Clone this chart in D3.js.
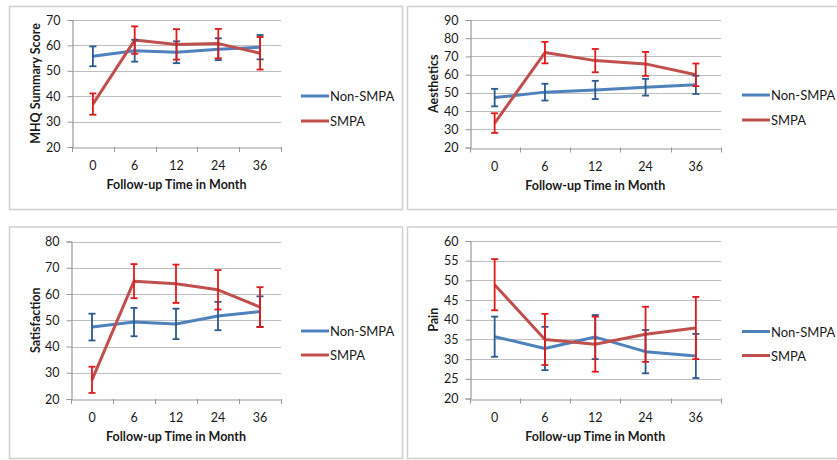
<!DOCTYPE html>
<html><head><meta charset="utf-8">
<script src="https://cdn.jsdelivr.net/npm/d3@7"></script>
<style>
html,body{margin:0;padding:0;background:#fff;}
svg{display:block;font-family:Lato,"Open Sans",sans-serif;}
</style></head>
<body>
<svg id="chart" width="837" height="460"></svg>
<script>
// ---- data ----
const months = ["0", "6", "12", "24", "36"];
const seriesNames = ["Non-SMPA", "SMPA"];

const mhqNon = [55.7, 57.9, 57.3, 58.5, 59.3];
const mhqNonErr = [3.9, 4.3, 4.3, 4.3, 4.8];
const mhqSmpa = [36.9, 62.1, 60.4, 60.7, 56.9];
const mhqSmpaErr = [4.2, 5.4, 6.0, 5.8, 6.4];

const aesNon = [47.4, 50.4, 51.6, 53.1, 54.4];
const aesNonErr = [4.8, 4.6, 5.0, 4.6, 5.0];
const aesSmpa = [33.4, 72.1, 67.7, 65.9, 59.9];
const aesSmpaErr = [5.4, 5.9, 6.4, 6.6, 6.2];

const satNon = [47.4, 49.3, 48.6, 51.6, 53.3];
const satNonErr = [5.1, 5.4, 5.8, 5.4, 5.8];
const satSmpa = [27.3, 64.9, 63.9, 61.6, 55.0];
const satSmpaErr = [5.0, 6.5, 7.3, 7.5, 7.6];

const painNon = [35.7, 32.7, 35.6, 31.9, 30.8];
const painNonErr = [5.1, 5.5, 5.6, 5.5, 5.6];
const painSmpa = [48.9, 35.0, 33.8, 36.3, 37.9];
const painSmpaErr = [6.5, 6.5, 7.0, 7.0, 7.9];

const yTitles = ["MHQ Summary Score", "Aesthetics", "Satisfaction", "Pain"];
const yDomains = [[20, 70], [20, 90], [20, 80], [20, 60]];
const yStepSizes = [10, 10, 10, 5];
const xTitle = "Follow-up Time in Month";

// ---- layout ----
const panels = [
  {box:[9, 6, 393, 203],   plot:[72, 20, 281, 147],     yl:35,  leg:[301, 96, 121],
   vals:[mhqNon, mhqSmpa], errs:[mhqNonErr, mhqSmpaErr]},
  {box:[407, 6, 440, 203], plot:[469.5, 20, 721, 147.5], yl:433, leg:[742, 95, 120],
   vals:[aesNon, aesSmpa], errs:[aesNonErr, aesSmpaErr]},
  {box:[9, 226.5, 393, 231.5], plot:[71, 241.5, 281, 399], yl:35, leg:[301, 331, 355],
   vals:[satNon, satSmpa], errs:[satNonErr, satSmpaErr]},
  {box:[407, 226.5, 440, 231.5], plot:[469.5, 241, 721, 398.5], yl:433, leg:[742, 331.5, 355.5],
   vals:[painNon, painSmpa], errs:[painNonErr, painSmpaErr]}
];

const lineColors = ["#4F81BD", "#C0504D"];
const errColors = ["#2C5A8C", "#E0191C"];
const gridColor = "#BEBEBE";
const axisColor = "#999999";
const textColor = "#1a1a1a";

const svg = d3.select("#chart");

panels.forEach((p, i) => {
  const g = svg.append("g");
  // border
  g.append("rect")
    .attr("x", p.box[0] + 0.5).attr("y", p.box[1] + 0.5)
    .attr("width", p.box[2]).attr("height", p.box[3])
    .attr("fill", "#fff").attr("stroke", "#D0D0D0").attr("stroke-width", 1.5);

  const [x0, y0, x1, y1] = p.plot;
  const x = d3.scaleBand().domain(months).range([x0, x1]);
  const y = d3.scaleLinear().domain(yDomains[i]).range([y1, y0]);
  const ticks = d3.range(yDomains[i][0], yDomains[i][1] + 0.001, yStepSizes[i]);

  // gridlines
  g.append("g").selectAll("line").data(ticks.slice(1)).join("line")
    .attr("x1", x0).attr("x2", x1)
    .attr("y1", d => Math.round(y(d)) + 0.5).attr("y2", d => Math.round(y(d)) + 0.5)
    .attr("stroke", gridColor).attr("stroke-width", 1.2);

  // y axis
  const ya = g.append("g").attr("transform", `translate(${Math.round(x0) + 0.5},0)`)
    .call(d3.axisLeft(y).tickValues(ticks).tickSize(5).tickPadding(7).tickFormat(d3.format("d")));
  ya.select(".domain").attr("stroke", axisColor).attr("stroke-width", 1.2);
  ya.selectAll(".tick line").attr("stroke", axisColor);
  ya.selectAll("text").attr("font-size", 12.5).attr("fill", textColor).attr("font-family", "Lato");

  // x axis
  const xa = g.append("g").attr("transform", `translate(0,${Math.round(y1) + 0.5})`)
    .call(d3.axisBottom(x).tickSize(0).tickPadding(14));
  xa.select(".domain").attr("stroke", axisColor).attr("stroke-width", 1.2);
  xa.selectAll("text").attr("font-size", 12.5).attr("fill", textColor).attr("font-family", "Lato");
  // boundary tick marks
  const bounds = months.map(m => x(m)).concat([x1]);
  g.append("g").selectAll("line").data(bounds).join("line")
    .attr("x1", d => Math.round(d) + 0.5).attr("x2", d => Math.round(d) + 0.5)
    .attr("y1", y1).attr("y2", y1 + 5)
    .attr("stroke", axisColor);

  // axis titles
  g.append("text")
    .attr("x", (x0 + x1) / 2).attr("y", y1 + 42)
    .attr("text-anchor", "middle").attr("font-weight", "bold")
    .attr("font-size", 12.5).attr("fill", textColor).text(xTitle);
  g.append("text")
    .attr("transform", `translate(${p.yl},${(y0 + y1) / 2}) rotate(-90)`)
    .attr("text-anchor", "middle").attr("dominant-baseline", "central")
    .attr("font-weight", "bold").attr("font-size", 12.5).attr("fill", textColor)
    .text(yTitles[i]);

  // series
  const cx = m => x(m) + x.bandwidth() / 2;
  [0, 1].forEach(s => {
    const pts = months.map((m, k) => ({m, v: p.vals[s][k], e: p.errs[s][k]}));
    g.append("path")
      .attr("d", d3.line().x(d => cx(d.m)).y(d => y(d.v))(pts))
      .attr("fill", "none").attr("stroke", lineColors[s]).attr("stroke-width", 3)
      .attr("stroke-linejoin", "round");
  });
  [0, 1].forEach(s => {
    const pts = months.map((m, k) => ({m, v: p.vals[s][k], e: p.errs[s][k]}));
    const eg = g.append("g").attr("stroke", errColors[s]).attr("stroke-width", 1.8);
    eg.selectAll("line.v").data(pts).join("line").attr("class", "v")
      .attr("x1", d => cx(d.m)).attr("x2", d => cx(d.m))
      .attr("y1", d => y(d.v + d.e)).attr("y2", d => y(d.v - d.e));
    eg.selectAll("line.t").data(pts).join("line").attr("class", "t")
      .attr("x1", d => cx(d.m) - 3.5).attr("x2", d => cx(d.m) + 3.5)
      .attr("y1", d => y(d.v + d.e)).attr("y2", d => y(d.v + d.e));
    eg.selectAll("line.b").data(pts).join("line").attr("class", "b")
      .attr("x1", d => cx(d.m) - 3.5).attr("x2", d => cx(d.m) + 3.5)
      .attr("y1", d => y(d.v - d.e)).attr("y2", d => y(d.v - d.e));
  });

  // legend
  seriesNames.forEach((name, s) => {
    const ly = p.leg[1 + s];
    g.append("line")
      .attr("x1", p.leg[0]).attr("x2", p.leg[0] + 28)
      .attr("y1", ly).attr("y2", ly)
      .attr("stroke", lineColors[s]).attr("stroke-width", 3);
    g.append("text")
      .attr("x", p.leg[0] + 29).attr("y", ly)
      .attr("dominant-baseline", "central")
      .attr("font-size", 13).attr("fill", textColor).text(name);
  });
});
</script>
</body></html>
